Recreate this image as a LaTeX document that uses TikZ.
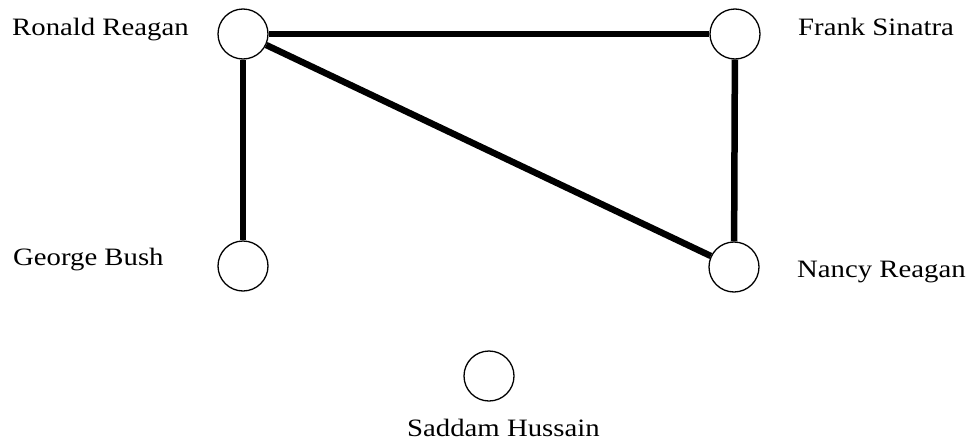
\documentclass[tikz,border=0pt]{standalone}
\usepackage{fontspec}
\setmainfont{Liberation Serif}[FakeStretch=1.15]
\begin{document}
\begin{tikzpicture}[x=1pt,y=-1pt,
  person/.style={circle,draw,line width=1.3pt,minimum size=50pt,inner sep=0pt},
  lbl/.style={anchor=base west,inner sep=0pt,font=\fontsize{25}{28}\selectfont},
  tie/.style={line width=6.5pt}]
\useasboundingbox (0,0) rectangle (972,442);
\node[person] (rr) at (243,34) {};
\node[person] (fs) at (735,34) {};
\node[person] (gb) at (243,266) {};
\node[person] (nr) at (734,267) {};
\node[person] (sh) at (489,376) {};
\node[lbl] (trr) at (12,35) {Ronald Reagan};
\node[lbl] (tfs) at (798,35) {Frank Sinatra};
\node[lbl] (tgb) at (13,265) {George Bush};
\node[lbl] (tnr) at (797,277) {Nancy Reagan};
\node[lbl] (tsh) at (407,436) {Saddam Hussain};
\draw[tie] (rr) -- (fs);
\draw[tie] (rr) -- (gb);
\draw[tie] (fs) -- (nr);
\draw[tie] (rr) -- (nr);
\end{tikzpicture}
\end{document}
